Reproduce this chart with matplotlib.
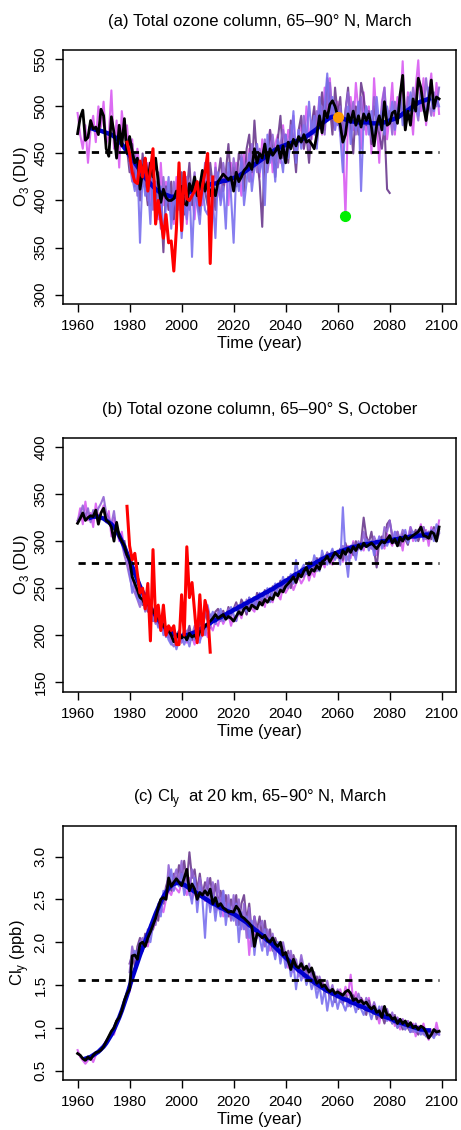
import numpy as np
import matplotlib
matplotlib.use('Agg')
import matplotlib.pyplot as plt

plt.rcParams['font.family'] = ['Liberation Sans', 'DejaVu Sans']
plt.rcParams['font.size'] = 11

# ---------------- data ----------------
# panel (a): total ozone column, 65-90N, March (DU)
a_orchid_start = 1960
a_orchid = [493, 470, 455, 480, 440, 475, 490, 462, 500, 478,
            505, 460, 470, 517, 455, 485, 435, 495, 470, 480,
            445, 465, 420, 455, 430, 445, 410, 440, 395, 430,
            415, 380, 440, 395, 420, 390, 410, 375, 425, 400,
            395, 430, 375, 415, 405, 380, 420, 410, 395, 430,
            405, 420, 385, 440, 410, 400, 425, 430, 395, 440,
            415, 440, 425, 405, 450, 430, 455, 420, 445, 460,
            425, 465, 440, 455, 475, 430, 460, 470, 440, 480,
            450, 475, 460, 490, 445, 470, 480, 455, 500, 470,
            465, 495, 480, 510, 470, 520, 490, 530, 485, 475,
            505, 470, 460, 383, 490, 510, 475, 525, 495, 455,
            515, 470, 500, 450, 530, 485, 440, 505, 520, 465,
            490, 525, 470, 510, 495, 548, 480, 515, 500, 470,
            520, 549, 495, 530, 480, 510, 535, 490, 525, 492]
a_dark_start = 1978
a_dark = [470, 455,
          430, 460, 415, 440, 400, 450, 420, 395, 440, 410,
          385, 430, 400, 345, 415, 390, 420, 380, 410, 395,
          430, 385, 410, 440, 395, 420, 400, 385, 425, 410,
          395, 440, 415, 390, 425, 445, 410, 430, 460, 420,
          435, 415, 450, 440, 410, 455, 470, 430, 485, 445,
          420, 372, 460, 440, 475, 455, 425, 465, 490, 445,
          470, 440, 485, 460, 430, 475, 490, 455, 470, 440,
          480, 500, 460, 490, 515, 475, 530, 500, 470, 520,
          490, 510, 465, 495, 520, 480, 450, 500, 470, 525,
          510, 480, 495, 460, 500, 485, 470, 455, 480, 412,
          408]
a_med_start = 1980
a_med = [440, 420, 450, 405, 430, 415, 445, 400, 425, 390,
         420, 405, 370, 425, 395, 410, 380, 420, 400, 390,
         415, 400, 425, 390, 410, 430, 395, 420, 405, 440,
         410, 425, 400, 435, 415, 405, 440, 420, 430, 410,
         445, 425, 415, 450, 430, 440, 420, 460, 445, 430,
         455, 440, 465, 430, 450, 470, 445, 435, 460, 475,
         455, 445, 480, 465, 450, 475, 460, 490, 470, 455,
         485, 470, 495, 480, 500, 470, 510, 525, 490, 505,
         480, 500, 470, 495, 515, 485, 505, 470, 490, 510,
         475, 500, 485, 465, 510, 490, 475, 500, 520, 480,
         495, 470, 505, 485, 515, 490, 475, 510, 495, 520,
         500, 485, 515, 495, 530, 505, 490, 515, 500, 520]
a_slate_start = 1980
a_slate = [455, 425, 410, 440, 355, 430, 405, 420, 375, 435,
           400, 385, 415, 360, 395, 425, 370, 405, 390, 415,
           360, 400, 380, 420, 340, 410, 395, 375, 415, 390,
           385, 420, 400, 360, 430, 395, 415, 370, 440, 405,
           355, 430, 410, 445, 395, 420, 450, 410, 435, 460,
           430, 445, 395, 470, 440, 455, 420, 465, 450, 430,
           470, 445, 460, 495, 440, 475, 455, 480, 465, 505,
           470, 490, 455, 510, 480, 500, 535, 490, 510, 475,
           495, 470, 430, 485, 500, 460, 490, 475, 505, 410,
           485, 500, 470, 495, 460, 510, 480, 495, 470, 500,
           485, 505, 475, 495, 510, 480, 500, 490, 515, 495,
           505, 490, 515, 500, 495, 520, 505, 495, 510, 500]
a_mean_start = 1960
a_mean = [471, 488, 496, 464, 467, 485, 476, 478, 470, 497,
          490, 455, 447, 489, 472, 445, 480, 458, 487, 450,
          468, 452, 440, 445, 412, 430, 444, 420, 440, 425,
          445, 420, 398, 412, 403, 400, 400, 402, 410, 405,
          415, 397, 395, 418, 410, 425, 405, 415, 432, 410,
          420, 405, 415, 405, 420, 424, 428, 425, 422, 425,
          410, 430, 420, 425, 432, 435, 440, 433, 455, 440,
          450, 445, 460, 440, 455, 448, 452, 458, 445, 458,
          440, 462, 455, 465, 458, 468, 462, 470, 462, 464,
          460, 455, 470, 490, 472, 495, 488, 502, 506, 500,
          490, 480, 462, 470, 492, 483, 495, 480, 490, 478,
          492, 485, 492, 478, 458, 480, 490, 475, 505, 480,
          482, 493, 495, 482, 512, 533, 475, 495, 480, 508,
          495, 530, 520, 500, 485, 505, 528, 498, 510, 508]
a_smooth_start = 1965
a_smooth = [477, 476, 475, 475, 474, 473,
            472, 471, 470, 468, 466, 463, 460, 456, 452, 448,
            444, 440, 436, 432, 428, 424, 421, 418, 415, 412,
            410, 408, 407, 406, 405, 404, 404, 404, 405, 406,
            407, 408, 409, 410, 411, 412, 413, 414, 415, 416,
            417, 418, 418, 419, 420, 421, 421, 422, 423, 424,
            425, 426, 428, 430, 432, 434, 436, 438, 440, 442,
            444, 446, 448, 450, 452, 454, 455, 457, 458, 459,
            460, 461, 462, 463, 464, 465, 466, 468, 470, 472,
            474, 476, 479, 482, 484, 486, 488, 489, 489, 489,
            488, 487, 486, 485, 484, 484, 483, 483, 483, 483,
            483, 483, 482, 482, 482, 482, 483, 483, 484, 485,
            486, 487, 488, 490, 492, 494, 496, 498, 500, 502,
            504, 505, 506, 507, 508]
a_obs_start = 1979
a_obs = [462, 450, 430, 420, 418, 442, 425, 445, 410, 432,
         455, 375, 400, 380, 360, 385, 355, 357, 325, 370,
         440, 368, 430, 402, 400, 405, 410, 420, 395, 415,
         430, 450, 333, 425]
a_ref = 451
a_points_x = [2060, 2063]
a_points_y = [489, 383]

# panel (b): total ozone column, 65-90S, October (DU)
b_orchid_start = 1960
b_orchid = [320, 335, 318, 342, 322, 330, 315, 340, 325, 330,
            338, 320, 332, 305, 325, 312, 300, 310, 290, 285,
            270, 260, 250, 242, 250, 235, 245, 228, 232, 220,
            225, 215, 210, 218, 200, 205, 195, 200, 190, 198,
            195, 200, 192, 205, 198, 190, 203, 195, 200, 208,
            198, 210, 205, 215, 210, 220, 212, 218, 222, 210,
            220, 215, 225, 218, 230, 222, 235, 228, 225, 238,
            232, 240, 230, 245, 238, 235, 248, 242, 238, 252,
            245, 250, 258, 248, 255, 262, 255, 260, 270, 258,
            268, 262, 275, 270, 280, 272, 285, 278, 275, 288,
            282, 290, 278, 285, 295, 282, 300, 288, 292, 298,
            290, 305, 295, 292, 300, 285, 305, 298, 292, 308,
            300, 295, 310, 298, 305, 290, 310, 302, 315, 300,
            310, 305, 318, 300, 312, 295, 315, 308, 305, 322]
b_med_start = 1960
b_med = [322, 328, 338, 325, 335, 320, 333, 328, 335, 340,
         347, 330, 325, 318, 332, 310, 305, 298, 285, 275,
         262, 250, 245, 238, 230, 240, 225, 232, 218, 222,
         212, 218, 205, 210, 198, 202, 192, 188, 196, 200,
         192, 198, 205, 195, 200, 210, 196, 205, 212, 200,
         215, 208, 220, 212, 225, 215, 222, 218, 228, 220,
         225, 232, 222, 230, 226, 238, 230, 235, 228, 242,
         236, 245, 238, 242, 250, 240, 246, 255, 248, 252,
         258, 250, 262, 255, 265, 260, 270, 262, 268, 275,
         270, 278, 268, 282, 275, 280, 288, 278, 285, 282,
         290, 283, 295, 288, 280, 292, 298, 285, 300, 292,
         310, 295, 300, 292, 305, 298, 302, 295, 315, 310,
         322, 305, 298, 310, 302, 312, 305, 300, 315, 308,
         305, 312, 308, 315, 302, 310, 306, 312, 300, 308]
b_dark_start = 1978
b_dark = [300, 285,
          275, 262, 255, 240, 248, 232, 238, 225, 230, 215,
          222, 210, 215, 205, 208, 198, 203, 195, 200, 205,
          198, 205, 200, 210, 195, 205, 200, 215, 208, 225,
          215, 222, 218, 225, 228, 220, 226, 218, 230, 222,
          228, 235, 225, 238, 232, 222, 240, 235, 230, 245,
          240, 235, 248, 242, 238, 252, 245, 250, 258, 248,
          255, 262, 250, 265, 258, 268, 262, 272, 265, 270,
          278, 270, 282, 275, 285, 280, 288, 276, 290, 282,
          285, 292, 280, 298, 288, 295, 285, 300, 292, 298,
          325, 305, 298, 310, 290, 272, 300, 305, 295, 318,
          322, 305, 298, 310, 295, 308, 302, 296, 310, 305,
          312, 300, 308, 315, 305, 310, 302, 315, 305, 312]
b_slate_start = 1980
b_slate = [268, 245, 258, 240, 235, 250, 228, 238, 222, 215,
           220, 208, 215, 200, 205, 195, 190, 198, 185, 195,
           200, 190, 198, 188, 202, 195, 200, 192, 210, 220,
           232, 218, 225, 212, 220, 228, 215, 222, 218, 230,
           222, 215, 232, 228, 235, 225, 240, 232, 238, 228,
           245, 238, 242, 250, 235, 248, 255, 245, 250, 262,
           250, 258, 265, 255, 280, 262, 270, 275, 265, 278,
           270, 285, 275, 268, 290, 280, 275, 285, 292, 280,
           288, 275, 336, 285, 262, 295, 290, 280, 298, 290,
           295, 302, 290, 300, 285, 295, 305, 292, 300, 295,
           302, 298, 310, 295, 305, 300, 312, 298, 305, 310,
           300, 308, 315, 302, 310, 305, 312, 300, 318, 310]
b_mean_start = 1960
b_mean = [319, 324, 330, 322, 325, 327, 326, 333, 318, 330,
          335, 322, 320, 315, 300, 320, 305, 300, 295, 285,
          280, 262, 255, 248, 240, 238, 232, 235, 230, 225,
          222, 218, 215, 210, 208, 205, 200, 193, 198, 202,
          197, 200, 195, 202, 198, 200, 196, 204, 205, 210,
          212, 215, 218, 222, 218, 220, 222, 217, 220, 218,
          215, 220, 225, 222, 228, 230, 226, 232, 230, 228,
          235, 232, 238, 235, 240, 238, 245, 242, 248, 246,
          252, 255, 258, 262, 256, 265, 262, 268, 272, 264,
          270, 268, 274, 270, 278, 280, 284, 278, 283, 288,
          285, 282, 290, 286, 292, 288, 294, 290, 296, 292,
          298, 294, 296, 298, 295, 292, 296, 300, 298, 302,
          306, 298, 302, 295, 304, 300, 306, 302, 304, 306,
          308, 310, 315, 306, 305, 303, 310, 308, 300, 315]
b_smooth_start = 1965
b_smooth = [325, 326, 326, 326, 325, 324,
            322, 320, 318, 315, 311, 306, 300, 294, 287, 280,
            273, 266, 259, 252, 246, 240, 235, 230, 225, 221,
            217, 213, 210, 207, 205, 203, 201, 200, 199, 199,
            200, 200, 201, 202, 203, 205, 206, 208, 210, 211,
            213, 215, 216, 218, 219, 221, 222, 224, 225, 227,
            228, 230, 231, 233, 234, 236, 237, 239, 240, 242,
            243, 245, 246, 248, 249, 251, 253, 254, 256, 258,
            259, 261, 263, 265, 266, 268, 270, 271, 273, 275,
            276, 278, 279, 281, 282, 284, 285, 286, 287, 288,
            289, 290, 291, 292, 293, 294, 294, 295, 296, 296,
            297, 297, 298, 298, 299, 299, 300, 300, 300, 301,
            301, 302, 302, 303, 303, 304, 304, 305, 305, 305,
            306, 306, 306, 307, 307]
b_obs_start = 1979
b_obs = [337, 295, 280, 287, 265, 245, 250, 228, 255, 194,
         291, 215, 232, 205, 232, 200, 210, 205, 210, 190,
         190, 243, 200, 294, 240, 256, 225, 192, 243, 200,
         237, 225, 182]
b_ref = 277

# panel (c): Cly at 20 km, 65-90N, March (ppb)
c_orchid_start = 1960
c_orchid = [0.74, 0.66, 0.62, 0.58, 0.62, 0.66, 0.60, 0.68, 0.72, 0.74,
            0.80, 0.85, 0.88, 0.95, 0.92, 1.05, 1.10, 1.18, 1.30, 1.38,
            1.42, 1.60, 1.70, 1.78, 1.85, 1.90, 2.00, 1.95, 2.10, 2.15,
            2.25, 2.30, 2.40, 2.35, 2.50, 2.60, 2.55, 2.65, 2.62, 2.58,
            2.70, 2.62, 2.55, 2.75, 2.50, 2.60, 2.45, 2.62, 2.55, 2.48,
            2.55, 2.40, 2.60, 2.45, 2.38, 2.50, 2.30, 2.45, 2.35, 2.28,
            2.40, 2.30, 2.25, 2.35, 2.15, 2.28, 1.85, 2.20, 2.10, 2.05,
            2.15, 2.05, 1.95, 2.10, 1.90, 2.00, 1.85, 1.95, 1.80, 1.90,
            1.78, 1.70, 1.85, 1.65, 1.75, 1.60, 1.70, 1.58, 1.68, 1.55,
            1.62, 1.50, 1.58, 1.45, 1.55, 1.40, 1.48, 1.35, 1.45, 1.42,
            1.38, 1.45, 1.32, 1.48, 1.38, 1.62, 1.30, 1.42, 1.28, 1.35,
            1.30, 1.25, 1.35, 1.20, 1.28, 1.18, 1.05, 1.22, 1.12, 1.20,
            1.08, 1.15, 1.02, 1.12, 0.98, 1.10, 1.00, 1.08, 0.95, 1.05,
            0.90, 1.02, 0.95, 1.05, 0.92, 0.86, 0.98, 0.90, 1.06, 0.92]
c_dark_start = 1980
c_dark = [1.75, 1.85, 1.72, 1.95, 2.05, 1.90, 2.10, 2.00, 2.20, 2.15,
          2.35, 2.25, 2.50, 2.45, 2.65, 2.75, 2.60, 2.80, 2.70, 2.90,
          2.75, 2.95, 2.70, 3.05, 2.75, 2.85, 2.60, 2.80, 2.55, 2.70,
          2.62, 2.75, 2.50, 2.68, 2.45, 2.60, 2.40, 2.55, 2.30, 2.50,
          2.35, 2.55, 2.20, 2.45, 2.55, 2.25, 2.45, 2.10, 2.30, 2.15,
          2.30, 2.05, 2.25, 2.00, 2.15, 1.90, 2.05, 1.95, 1.85, 1.95,
          1.80, 1.90, 1.70, 1.85, 1.75, 1.65, 1.80, 1.60, 1.72, 1.55,
          1.65, 1.50, 1.60, 1.45, 1.55, 1.40, 1.50, 1.35, 1.45, 1.30,
          1.42, 1.35, 1.28, 1.40, 1.32, 1.25, 1.38, 1.30, 1.22, 1.35,
          1.28, 1.15, 1.32, 1.20, 1.25, 1.10, 1.22, 1.15, 1.05, 1.18,
          1.12, 1.05, 1.15, 1.00, 1.10, 0.98, 1.05, 1.00, 0.95, 1.02,
          0.98, 0.92, 1.00, 0.95, 0.90, 0.98, 0.93, 0.96, 0.92, 0.95]
c_med_start = 1980
c_med = [1.65, 1.95, 1.80, 1.90, 2.00, 2.05, 1.95, 2.15, 2.10, 2.25,
         2.20, 2.45, 2.35, 2.55, 2.50, 2.90, 2.65, 2.75, 2.85, 2.70,
         2.95, 2.65, 2.80, 2.55, 2.85, 2.70, 2.50, 2.75, 2.60, 2.55,
         2.75, 2.45, 2.70, 2.35, 2.72, 2.40, 2.60, 2.30, 2.55, 2.25,
         2.55, 2.20, 2.50, 2.15, 2.45, 2.05, 2.40, 1.95, 2.30, 2.10,
         2.20, 2.25, 1.95, 2.15, 2.00, 2.10, 1.90, 2.00, 1.85, 2.00,
         1.85, 1.75, 1.90, 1.70, 1.80, 1.65, 1.85, 1.70, 1.60, 1.75,
         1.55, 1.65, 1.45, 1.60, 1.50, 1.42, 1.55, 1.40, 1.50, 1.35,
         1.45, 1.30, 1.40, 1.35, 1.25, 1.42, 1.32, 1.28, 1.40, 1.30,
         1.22, 1.35, 1.25, 1.18, 1.30, 1.20, 1.12, 1.25, 1.15, 1.22,
         1.10, 1.18, 1.05, 1.12, 1.02, 1.10, 0.98, 1.08, 1.00, 0.95,
         1.05, 0.95, 1.00, 0.92, 0.98, 0.90, 0.96, 0.92, 0.98, 0.94]
c_slate_start = 1980
c_slate = [1.55, 1.80, 1.90, 1.85, 2.00, 1.90, 2.05, 2.10, 2.00, 2.20,
           2.30, 2.40, 2.30, 2.60, 2.55, 2.70, 2.85, 2.60, 2.75, 2.65,
           2.80, 2.55, 2.70, 2.60, 2.45, 2.75, 2.35, 2.65, 2.50, 2.05,
           2.60, 2.35, 2.55, 2.25, 2.50, 2.30, 2.60, 2.20, 2.45, 2.35,
           2.25, 2.45, 2.00, 2.35, 2.15, 2.30, 2.05, 2.25, 1.85, 2.15,
           2.05, 1.90, 2.15, 1.85, 2.05, 1.95, 1.80, 2.00, 1.75, 1.90,
           1.70, 1.85, 1.60, 1.75, 1.45, 1.70, 1.55, 1.65, 1.50, 1.60,
           1.45, 1.55, 1.35, 1.50, 1.28, 1.45, 1.20, 1.40, 1.25, 1.38,
           1.22, 1.35, 1.28, 1.20, 1.32, 1.25, 1.30, 1.18, 1.28, 1.22,
           1.15, 1.28, 1.20, 1.10, 1.22, 1.15, 1.25, 1.12, 1.18, 1.08,
           1.15, 1.05, 1.12, 1.00, 1.08, 1.02, 0.98, 1.05, 0.95, 1.00,
           0.95, 1.00, 0.92, 0.98, 0.90, 0.96, 0.92, 0.88, 0.95, 0.92]
c_mean_start = 1960
c_mean = [0.70, 0.68, 0.64, 0.62, 0.66, 0.63, 0.68, 0.71, 0.72, 0.74,
          0.78, 0.84, 0.90, 0.96, 1.00, 1.08, 1.12, 1.20, 1.32, 1.40,
          1.45, 1.84, 1.85, 1.80, 1.98, 2.00, 1.95, 2.05, 2.12, 2.20,
          2.28, 2.40, 2.50, 2.52, 2.50, 2.75, 2.65, 2.70, 2.74, 2.70,
          2.66, 2.75, 2.85, 2.60, 2.68, 2.62, 2.50, 2.58, 2.55, 2.60,
          2.55, 2.62, 2.45, 2.52, 2.42, 2.45, 2.40, 2.38, 2.35, 2.36,
          2.35, 2.42, 2.38, 2.30, 2.28, 2.25, 2.22, 2.18, 1.95, 2.10,
          2.08, 2.05, 2.08, 2.02, 2.00, 2.05, 1.98, 1.95, 2.00, 1.85,
          1.88, 1.78, 1.68, 1.80, 1.72, 1.70, 1.75, 1.68, 1.72, 1.65,
          1.70, 1.60, 1.52, 1.55, 1.48, 1.50, 1.45, 1.42, 1.45, 1.40,
          1.42, 1.40, 1.38, 1.42, 1.44, 1.40, 1.32, 1.34, 1.30, 1.32,
          1.28, 1.30, 1.25, 1.22, 1.25, 1.18, 1.20, 1.12, 1.25, 1.15,
          1.15, 1.10, 1.12, 1.05, 1.10, 1.05, 1.08, 1.02, 1.06, 1.00,
          1.02, 0.98, 1.02, 1.00, 0.95, 0.88, 0.92, 0.98, 0.95, 0.96]
c_smooth_start = 1963
c_smooth = [0.64, 0.65, 0.66, 0.68, 0.70, 0.72, 0.75, 0.78,
            0.82, 0.87, 0.92, 0.98, 1.05, 1.12, 1.20, 1.29, 1.38, 1.48,
            1.58, 1.67, 1.76, 1.85, 1.93, 2.01, 2.09, 2.17, 2.25, 2.33,
            2.40, 2.47, 2.53, 2.58, 2.63, 2.66, 2.68, 2.69, 2.69, 2.68,
            2.67, 2.65, 2.63, 2.61, 2.59, 2.57, 2.55, 2.53, 2.51, 2.49,
            2.47, 2.45, 2.44, 2.42, 2.40, 2.39, 2.37, 2.36, 2.34, 2.33,
            2.31, 2.29, 2.27, 2.25, 2.23, 2.20, 2.18, 2.15, 2.13, 2.10,
            2.08, 2.05, 2.02, 2.00, 1.97, 1.94, 1.91, 1.88, 1.85, 1.82,
            1.79, 1.76, 1.73, 1.70, 1.67, 1.65, 1.62, 1.60, 1.57, 1.55,
            1.53, 1.51, 1.49, 1.47, 1.45, 1.43, 1.42, 1.40, 1.39, 1.37,
            1.36, 1.34, 1.33, 1.32, 1.30, 1.29, 1.28, 1.26, 1.25, 1.24,
            1.22, 1.21, 1.20, 1.18, 1.17, 1.16, 1.14, 1.13, 1.12, 1.11,
            1.10, 1.08, 1.07, 1.06, 1.05, 1.04, 1.03, 1.02, 1.01, 1.00,
            0.99, 0.98, 0.98, 0.97, 0.97]
c_ref = 1.556

x_ticks = [1960, 1980, 2000, 2020, 2040, 2060, 2080, 2100]

# ---------------- styles ----------------
col_orchid = '#d95cf2'
col_dark = '#6b3a8e'
col_med = '#9062d4'
col_slate = '#7a70ee'


def yrs(start, vals):
    return np.arange(start, start + len(vals))


def panel(ax, members, mean, smooth, obs, ref, title, ylabel, ylim, yticks, yticklabels):
    for (start, vals, col) in members:
        ax.plot(yrs(start, vals), vals, color=col, lw=1.5, alpha=0.9, zorder=1)
    ax.plot(yrs(*smooth), smooth[1], color='#0000cc', lw=3.2, zorder=2)
    ax.plot(yrs(*mean), mean[1], color='black', lw=2.0, zorder=3)
    if obs is not None:
        ax.plot(yrs(*obs), obs[1], color='#ff0000', lw=2.2, zorder=4)
    ax.plot([1960, 2099], [ref, ref], color='black', lw=2.0, ls=(0, (2.6, 2.2)), zorder=3.5)
    ax.set_xlim(1954.4, 2105.6)
    ax.set_ylim(*ylim)
    ax.set_xticks(x_ticks)
    ax.set_yticks(yticks)
    ax.set_yticklabels(yticklabels, rotation=90, va='center')
    ax.tick_params(direction='out', length=6, width=1, pad=5, labelsize=11)
    for s in ax.spines.values():
        s.set_linewidth(1.1)
    ax.set_title(title, fontsize=12, pad=17)
    ax.set_xlabel('Time (year)', fontsize=12, labelpad=2)
    ax.set_ylabel(ylabel, fontsize=12, labelpad=2)


fig = plt.figure(figsize=(4.61, 11.3), dpi=100)
ax1 = fig.add_axes([0.1367, 0.731, 0.853, 0.2248])
ax2 = fig.add_axes([0.1367, 0.3879, 0.853, 0.2248])
ax3 = fig.add_axes([0.1367, 0.0442, 0.853, 0.2251])

panel(ax1,
      [(a_orchid_start, a_orchid, col_orchid), (a_dark_start, a_dark, col_dark),
       (a_med_start, a_med, col_med), (a_slate_start, a_slate, col_slate)],
      (a_mean_start, a_mean), (a_smooth_start, a_smooth), (a_obs_start, a_obs), a_ref,
      '(a) Total ozone column, 65–90° N, March', r'O$_\mathregular{3}$ (DU)',
      (290, 560), [300, 350, 400, 450, 500, 550], ['300', '350', '400', '450', '500', '550'])
ax1.plot(a_points_x[0], a_points_y[0], 'o', color='#ff9900', ms=7, zorder=6)
ax1.plot(a_points_x[1], a_points_y[1], 'o', color='#00ee00', ms=7, zorder=6)

panel(ax2,
      [(b_orchid_start, b_orchid, col_orchid), (b_dark_start, b_dark, col_dark),
       (b_med_start, b_med, col_med), (b_slate_start, b_slate, col_slate)],
      (b_mean_start, b_mean), (b_smooth_start, b_smooth), (b_obs_start, b_obs), b_ref,
      '(b) Total ozone column, 65–90° S, October', r'O$_\mathregular{3}$ (DU)',
      (140, 410), [150, 200, 250, 300, 350, 400], ['150', '200', '250', '300', '350', '400'])

panel(ax3,
      [(c_orchid_start, c_orchid, col_orchid), (c_dark_start, c_dark, col_dark),
       (c_med_start, c_med, col_med), (c_slate_start, c_slate, col_slate)],
      (c_mean_start, c_mean), (c_smooth_start, c_smooth), None, c_ref,
      r'(c) Cl$_\mathregular{y}$  at 20 km, 65–90° N, March', r'Cl$_\mathregular{y}$ (ppb)',
      (0.39, 3.36), [0.5, 1.0, 1.5, 2.0, 2.5, 3.0], ['0.5', '1.0', '1.5', '2.0', '2.5', '3.0'])

fig.savefig('out.png', dpi=100)
